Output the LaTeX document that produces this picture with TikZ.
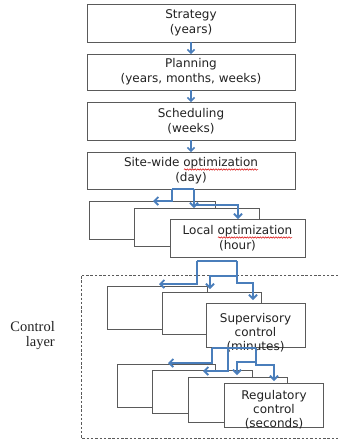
\documentclass[tikz,border=0pt]{standalone}
\usepackage{fontspec}
\setmainfont{DejaVu Sans}
\newfontfamily\serifx{Liberation Serif}
\usetikzlibrary{arrows.meta,decorations.pathmorphing}
\definecolor{blu}{HTML}{4A7EBB}
\definecolor{edge}{HTML}{5A5A5A}
\definecolor{txtc}{HTML}{222222}
\begin{document}
\begin{tikzpicture}[x=1pt,y=-1pt,
  box/.style={draw=edge, line width=1pt, fill=white, inner sep=0pt, outer sep=0pt,
    align=center, anchor=north west, text=txtc, font=\fontsize{12}{15}\selectfont},
  txt/.style={inner sep=0pt, align=center, text=txtc, font=\fontsize{12}{14}\selectfont},
  lnk/.style={draw=blu, line width=1.5pt, -{Straight Barb[length=3.5pt,width=7pt]}},
  brk/.style={draw=blu, line width=1.8pt},
  brka/.style={brk, -{Straight Barb[length=4pt,width=8pt]}},
  wav/.style={draw=red!85!black, line width=0.5pt, decorate,
    decoration={snake, amplitude=0.7pt, segment length=2.6pt}},
  lay/.style={draw=edge, line width=0.9pt, dash pattern=on 2.5pt off 1.8pt}
]
\useasboundingbox (0,0) rectangle (338,440);

% top column
\node[box, minimum width=208pt, minimum height=38pt] (strat) at (87,4) {Strategy\\(years)};
\node[box, minimum width=208pt, minimum height=36pt] (plan) at (87,54) {Planning\\(years, months, weeks)};
\node[box, minimum width=208pt, minimum height=38pt] (sched) at (87,102) {Scheduling\\(weeks)};
\node[box, minimum width=208pt, minimum height=37pt] (site) at (87,152) {Site-wide optimization\\(day)};
\draw[wav] (184,169.5) -- (258,169.5);

\draw[lnk] (strat.south) -- (plan.north);
\draw[lnk] (plan.south) -- (sched.north);
\draw[lnk] (sched.south) -- (site.north);

% local optimization group
\node[box, minimum width=126pt, minimum height=38pt] (la) at (89,201) {};
\node[box, minimum width=125pt, minimum height=38pt] (lb) at (134,208) {};
\node[box, minimum width=135pt, minimum height=38pt] (local) at (170,219) {Local optimization\\(hour)};
\draw[wav] (218,237.5) -- (292,237.5);

\coordinate (s1) at (172,189);
\coordinate (s2) at (194,189);
\draw[brk] (s1) -- (s2);
\draw[brka] (s1) |- (153,201);
\draw[brka] (s2) -- (194,208);
\draw[brka] (194,205) -| (238,219);

% control layer frame
\draw[lay] (338,275) -- (81,275) -- (81,438) -- (338,438);
\node[inner sep=0pt, align=right, anchor=east, text=txtc,
  font=\serifx\fontsize{14.5}{15}\selectfont] (ctl) at (55,335.5) {Control\\layer};

% supervisory group
\node[box, minimum width=100pt, minimum height=43pt] (sa) at (107,286) {};
\node[box, minimum width=99pt, minimum height=42pt] (sb) at (162,292) {};
\node[box, minimum width=99pt, minimum height=44pt] (sup) at (206,303) {};
\node[txt] (suptxt) at (255.5,332.5) {Supervisory\\control\\(minutes)};

\coordinate (p1) at (197,261);
\coordinate (p2) at (237,261);
\draw[brk] (p1) -- (p2);
\draw[brka] (p1) |- (159,284);
\draw[brka] (p2) |- (253,283) -- (253,300);
\draw[brka] (237,276) -| (210,289);

% regulatory group
\node[box, minimum width=98pt, minimum height=43pt] (ra) at (117,364) {};
\node[box, minimum width=100pt, minimum height=43pt] (rb) at (152,370) {};
\node[box, minimum width=99pt, minimum height=45pt] (rc) at (188,377) {};
\node[box, minimum width=99pt, minimum height=44pt] (reg) at (224,383) {};
\node[txt] (regtxt) at (274,410) {Regulatory\\control\\(seconds)};

\coordinate (q1) at (212,348);
\coordinate (q2) at (228,348);
\coordinate (q3) at (256,348);
\draw[brk] (q1) -- (q3);
\draw[brka] (q1) |- (168,363);
\draw[brka] (q2) |- (203,371);
\draw[brk] (q3) -- (256,363);
\draw[brka] (256,362) -| (237,375);
\draw[brka] (256,362) |- (274,365) -- (274,381);
\end{tikzpicture}
\end{document}
